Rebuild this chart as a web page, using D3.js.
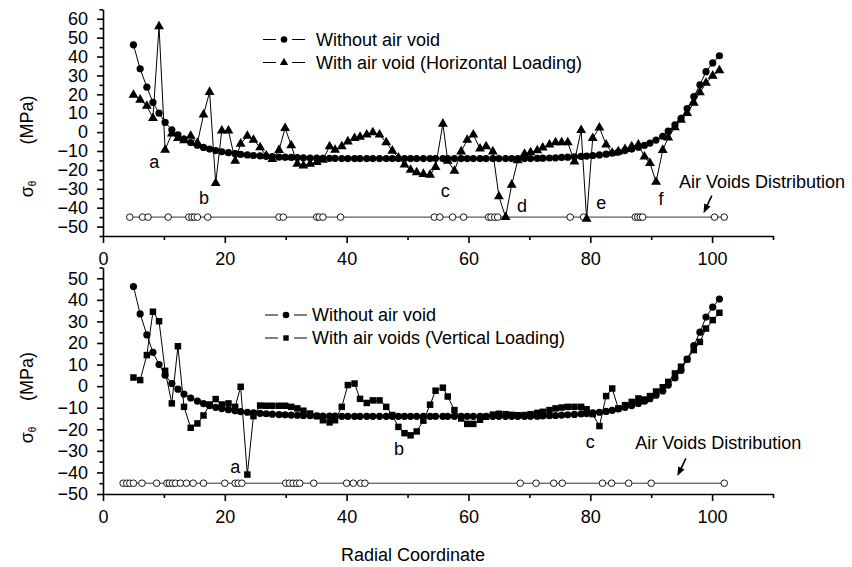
<!DOCTYPE html>
<html>
<head>
<meta charset="utf-8">
<title>Hoop stress along radial coordinate</title>
<script src="https://d3js.org/d3.v7.min.js"></script>
<style>
  body { margin: 0; background: #fff; }
  svg text { font-family: "Liberation Sans", Arial, sans-serif; fill: #000; }
</style>
</head>
<body>
<div id="chart"></div>
<script>
// radial positions of the computed nodes (shared by every series)
const radial = [5.0, 6.1, 7.2, 8.2, 9.2, 10.2, 11.3, 12.3, 13.3, 14.4,
  15.5, 16.5, 17.5, 18.5, 19.5, 20.6, 21.7, 22.6, 23.7, 24.7,
  25.8, 26.8, 27.8, 28.9, 29.9, 30.9, 31.9, 32.9, 34.0, 35.1,
  36.1, 37.2, 38.1, 39.2, 40.2, 41.3, 42.2, 43.3, 44.3, 45.4,
  46.5, 47.5, 48.5, 49.5, 50.5, 51.5, 52.6, 53.7, 54.6, 55.8,
  56.6, 57.7, 58.8, 59.8, 60.8, 61.9, 62.9, 64.0, 65.0, 66.1,
  67.1, 68.1, 69.2, 70.2, 71.3, 72.2, 73.3, 74.3, 75.3, 76.3,
  77.4, 78.5, 79.4, 80.4, 81.5, 82.6, 83.6, 84.6, 85.7, 86.8,
  87.9, 88.9, 89.8, 90.8, 91.9, 92.8, 93.9, 94.9, 95.9, 97.0,
  98.0, 99.0, 100.1, 101.2];

// without air void
const withoutVoid = [46.2, 33.5, 23.8, 15.7, 10.0, 5.1, 1.2, -1.4, -3.7, -5.5,
  -6.9, -8.1, -9.0, -9.8, -10.4, -10.9, -11.4, -11.8, -12.1, -12.4,
  -12.6, -12.8, -13.0, -13.2, -13.3, -13.4, -13.5, -13.6, -13.7, -13.8,
  -13.9, -13.9, -13.9, -14.0, -14.0, -14.0, -14.0, -14.0, -14.0, -14.0,
  -14.0, -14.0, -14.0, -14.0, -14.0, -14.0, -14.0, -14.0, -14.0, -14.0,
  -14.0, -14.0, -14.0, -14.0, -14.0, -14.0, -14.0, -14.0, -14.0, -14.0,
  -14.0, -14.0, -14.0, -14.0, -13.9, -13.8, -13.7, -13.6, -13.4, -13.3,
  -13.1, -12.9, -12.7, -12.4, -12.1, -11.7, -11.2, -10.6, -9.8, -9.0,
  -8.0, -7.0, -5.8, -4.2, -2.2, 0.5, 3.8, 7.3, 12.5, 18.8,
  25.0, 32.0, 36.6, 40.4];

// with air void, horizontal loading
const horizontal = [19.7, 17.1, 13.9, 7.4, 55.9, -9.4, -0.8, -3.2, -4.4, -2.0,
  -5.8, 9.2, 21.2, -27.0, 0.7, 0.7, -15.2, -6.2, -2.0, -4.1,
  -8.1, -12.5, -14.3, -9.5, 2.1, -7.0, -16.8, -17.8, -16.8, -15.9,
  -14.7, -7.6, -9.4, -7.6, -5.0, -3.2, -2.6, -1.4, -0.2, -1.4,
  -5.5, -9.9, -13.5, -17.3, -20.0, -21.4, -22.2, -22.6, -18.5, 4.4,
  -15.2, -20.5, -10.3, -4.1, -1.4, -8.8, -7.6, -10.3, -34.1, -45.0,
  -27.9, -15.0, -11.5, -10.8, -9.7, -8.2, -6.7, -5.5, -5.5, -5.5,
  -15.6, 1.0, -46.0, -3.2, 2.4, -6.7, -11.0, -10.3, -9.0, -7.6,
  -6.7, -13.0, -16.4, -26.4, -9.5, -3.0, 2.5, 6.5, 10.0, 15.5,
  21.0, 26.0, 29.8, 32.6];

// with air voids, vertical loading
const vertical = [4.0, 2.8, 14.4, 34.5, 30.1, 7.1, -8.0, 18.5, -9.6, -19.3,
  -17.3, -13.6, -8.5, -6.0, -8.5, -8.0, -9.6, -0.3, -41.0, -13.9,
  -9.0, -9.1, -9.1, -9.1, -9.1, -9.6, -10.3, -11.4, -12.7, -13.9,
  -15.8, -16.8, -15.8, -9.6, 0.5, 1.2, -5.9, -7.8, -6.6, -6.6,
  -9.6, -13.4, -18.9, -21.8, -22.8, -21.0, -16.0, -8.6, -2.1, -0.7,
  -4.8, -11.1, -15.0, -17.5, -17.5, -15.6, -14.2, -13.2, -12.8, -13.0,
  -13.3, -13.5, -13.4, -13.0, -12.4, -11.9, -11.1, -10.3, -9.9, -9.6,
  -9.6, -9.6, -10.7, -13.0, -18.5, -4.6, -1.1, -10.3, -8.8, -7.3,
  -5.7, -6.2, -4.6, -2.5, -0.5, 2.0, 5.9, 9.0, 12.4, 16.7,
  20.5, 26.7, 30.6, 34.0];

// air void positions (drawn on the -45 MPa line)
const voidsTop = [4.4, 6.5, 7.4, 10.7, 14.1, 14.6, 15.0, 15.5, 17.2, 28.9,
  29.6, 35.1, 35.5, 36.1, 39.0, 54.4, 55.3, 57.4, 59.2, 63.3,
  63.7, 64.3, 64.8, 76.7, 78.9, 87.4, 87.8, 88.2, 88.6, 100.4, 102.0];
const voidsBottom = [3.3, 3.9, 4.4, 5.0, 6.4, 8.8, 10.5, 10.9, 11.4, 11.9,
  12.7, 13.7, 14.8, 16.5, 20.0, 21.7, 22.2, 22.8, 30.0, 30.6,
  31.2, 31.8, 32.3, 34.6, 40.0, 41.1, 42.3, 43.0, 68.5, 71.1,
  74.0, 75.4, 82.0, 83.5, 86.3, 90.0, 102.0];
const voidLevel = -45;

// axis ticks
const xMajor = [0, 20, 40, 60, 80, 100];
const xMinor = [10, 30, 50, 70, 90, 110];
const yTopMajor = [-50, -40, -30, -20, -10, 0, 10, 20, 30, 40, 50, 60];
const yTopMinor = [-55, -45, -35, -25, -15, -5, 5, 15, 25, 35, 45, 55, 65];
const yBotMajor = [-50, -40, -30, -20, -10, 0, 10, 20, 30, 40, 50];
const yBotMinor = [-45, -35, -25, -15, -5, 5, 15, 25, 35, 45, 55];

// annotation letters [x, y, text] in data units
const notesTop = [[8.4, -15.6, "a"], [16.6, -34.9, "b"], [56.2, -31.1, "c"],
  [68.8, -39, "d"], [81.8, -37.6, "e"], [91.6, -35.6, "f"]];
const notesBottom = [[21.7, -37.4, "a"], [48.6, -29.2, "b"], [80, -25.8, "c"]];

const width = 852, height = 567;
const fs = 18;

const svg = d3.select("#chart").append("svg")
  .attr("width", width)
  .attr("height", height);

const x = d3.scaleLinear().domain([0, 110]).range([103, 773]);

function symbolPath(type, size) {
  return d3.symbol().type(type).size(size)();
}

function drawPanel(opt) {
  const y = d3.scaleLinear().domain(opt.yDomain).range(opt.yRange);
  const g = svg.append("g");
  const bottom = opt.yRange[0];

  // axes
  g.append("g").attr("transform", `translate(0,${bottom})`)
    .call(d3.axisBottom(x).tickValues(xMajor).tickSize(7).tickSizeOuter(0).tickPadding(9));
  g.append("g").attr("transform", `translate(0,${bottom})`)
    .call(d3.axisBottom(x).tickValues(xMinor).tickSize(4).tickSizeOuter(0).tickFormat(""))
    .select(".domain").remove();
  g.append("g").attr("transform", `translate(${x(0)},0)`)
    .call(d3.axisLeft(y).tickValues(opt.yMajor).tickSize(6).tickSizeOuter(0).tickPadding(9));
  g.append("g").attr("transform", `translate(${x(0)},0)`)
    .call(d3.axisLeft(y).tickValues(opt.yMinor).tickSize(3.5).tickSizeOuter(0).tickFormat(""))
    .select(".domain").remove();
  g.selectAll(".domain, .tick line").attr("stroke", "#000").attr("stroke-width", 1.6);
  g.selectAll(".tick text").attr("font-size", fs).attr("font-family", "Liberation Sans, Arial, sans-serif");

  // air voids distribution
  g.append("path")
    .attr("d", d3.line().x(d => x(d)).y(() => y(voidLevel))(opt.voids))
    .attr("fill", "none").attr("stroke", "#333").attr("stroke-width", 1);
  g.selectAll("circle.void").data(opt.voids).join("circle")
    .attr("class", "void")
    .attr("cx", d => x(d)).attr("cy", y(voidLevel)).attr("r", 3.3)
    .attr("fill", "#fff").attr("stroke", "#000").attr("stroke-width", 0.9);

  const line = d3.line().x((d, i) => x(radial[i])).y(d => y(d));

  // with voids series
  g.append("path").attr("d", line(opt.values))
    .attr("fill", "none").attr("stroke", "#000").attr("stroke-width", 1);
  g.selectAll("path.mk").data(opt.values).join("path")
    .attr("class", "mk")
    .attr("transform", (d, i) => `translate(${x(radial[i])},${y(d)})`)
    .attr("d", symbolPath(opt.symbol, opt.symbolSize))
    .attr("fill", "#000");

  // without void series
  g.append("path").attr("d", line(withoutVoid))
    .attr("fill", "none").attr("stroke", "#000").attr("stroke-width", 1);
  g.selectAll("circle.wo").data(withoutVoid).join("circle")
    .attr("class", "wo")
    .attr("cx", (d, i) => x(radial[i])).attr("cy", d => y(d)).attr("r", 3.6)
    .attr("fill", "#000");

  // annotations
  g.selectAll("text.note").data(opt.notes).join("text")
    .attr("class", "note")
    .attr("x", d => x(d[0])).attr("y", d => y(d[1]))
    .attr("text-anchor", "middle").attr("dominant-baseline", "central")
    .attr("font-size", fs).text(d => d[2]);

  g.append("text")
    .attr("x", x(opt.avLabel[0])).attr("y", y(opt.avLabel[1]))
    .attr("text-anchor", "middle").attr("dominant-baseline", "central")
    .attr("font-size", fs).text("Air Voids Distribution");

  // arrow
  const a0 = [x(opt.arrow[0]), y(opt.arrow[1])], a1 = [x(opt.arrow[2]), y(opt.arrow[3])];
  const ang = Math.atan2(a1[1] - a0[1], a1[0] - a0[0]);
  g.append("line").attr("x1", a0[0]).attr("y1", a0[1])
    .attr("x2", a1[0] - 5 * Math.cos(ang)).attr("y2", a1[1] - 5 * Math.sin(ang))
    .attr("stroke", "#000").attr("stroke-width", 1.6);
  const hl = 9, hw = 3.5;
  const bx = a1[0] - hl * Math.cos(ang), by = a1[1] - hl * Math.sin(ang);
  g.append("path")
    .attr("d", `M${a1[0]},${a1[1]}L${bx + hw * Math.sin(ang)},${by - hw * Math.cos(ang)}L${bx - hw * Math.sin(ang)},${by + hw * Math.cos(ang)}Z`)
    .attr("fill", "#000");

  // legend
  const lg = g.append("g").attr("transform", `translate(${opt.legend[0]},${opt.legend[1]})`);
  const rows = [
    { name: "Without air void", sym: null },
    { name: opt.seriesName, sym: opt.symbol, size: opt.symbolSize }
  ];
  rows.forEach((r, i) => {
    const ry = i * 23;
    lg.append("line").attr("x1", 0).attr("x2", 42).attr("y1", ry).attr("y2", ry)
      .attr("stroke", "#000").attr("stroke-width", 1);
    lg.append("rect").attr("x", 13).attr("y", ry - 4).attr("width", 16).attr("height", 8).attr("fill", "#fff");
    if (r.sym) {
      lg.append("path").attr("transform", `translate(21,${ry})`)
        .attr("d", symbolPath(r.sym, r.size * 0.7)).attr("fill", "#000");
    } else {
      lg.append("circle").attr("cx", 21).attr("cy", ry).attr("r", 3.3).attr("fill", "#000");
    }
    lg.append("text").attr("x", opt.legendText).attr("y", ry)
      .attr("dominant-baseline", "central").attr("font-size", fs).text(r.name);
  });

  // y title
  const yt = g.append("g").attr("transform", `translate(27,0)`);
  yt.append("text").attr("transform", `translate(0,${opt.titleY[0]}) rotate(-90)`)
    .attr("text-anchor", "middle").attr("dominant-baseline", "central")
    .attr("font-size", fs).text("(MPa)");
  const sg = yt.append("text").attr("transform", `translate(0,${opt.titleY[1]}) rotate(-90)`)
    .attr("text-anchor", "middle").attr("dominant-baseline", "central")
    .attr("font-size", fs);
  sg.append("tspan").text("σ");
  sg.append("tspan").attr("font-size", 10).attr("dy", 5).text("θ");
}

drawPanel({
  yDomain: [-55, 65], yRange: [236, 9.3],
  yMajor: yTopMajor, yMinor: yTopMinor,
  values: horizontal, symbol: d3.symbolTriangle, symbolSize: 42,
  seriesName: "With air void (Horizontal Loading)",
  voids: voidsTop, notes: notesTop,
  avLabel: [108.2, -26.2], arrow: [99.95, -33.6, 98.6, -42.9],
  legend: [263, 39.5], legendText: 53,
  titleY: [120, 189]
});

drawPanel({
  yDomain: [-50, 55], yRange: [494, 267.5],
  yMajor: yBotMajor, yMinor: yBotMinor,
  values: vertical, symbol: d3.symbolSquare, symbolSize: 42,
  seriesName: "With air voids (Vertical Loading)",
  voids: voidsBottom, notes: notesBottom,
  avLabel: [101, -26.2], arrow: [95.7, -33.5, 94.3, -41.7],
  legend: [265, 315], legendText: 47,
  titleY: [376.5, 435]
});

svg.append("text")
  .attr("x", 413).attr("y", 555)
  .attr("text-anchor", "middle").attr("dominant-baseline", "central")
  .attr("font-size", fs).text("Radial Coordinate");
</script>
</body>
</html>
